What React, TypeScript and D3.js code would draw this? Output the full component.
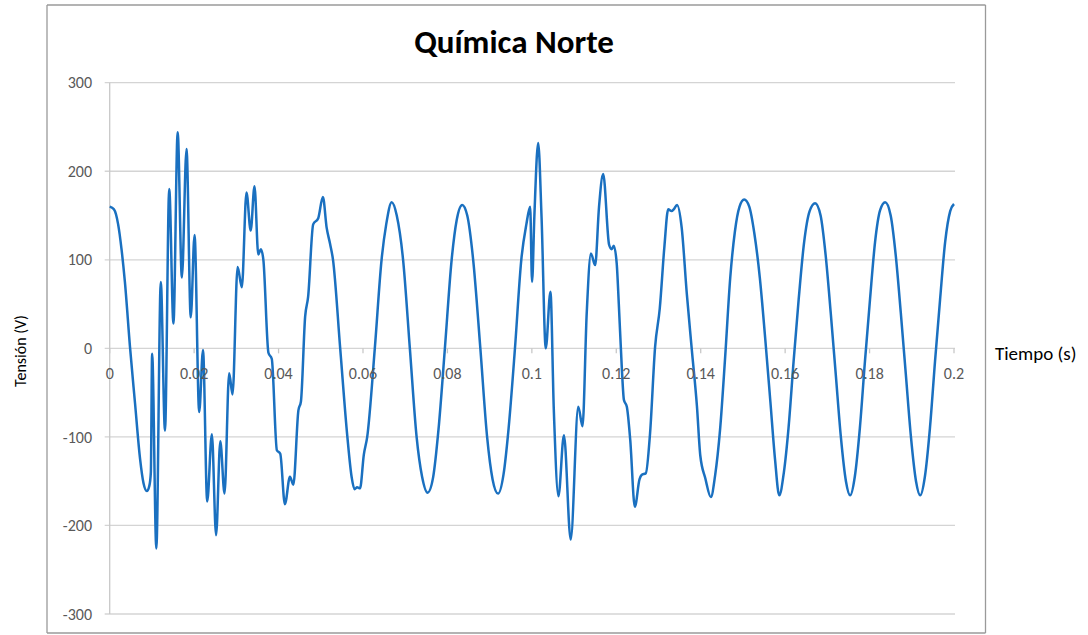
import React from "react";
import * as d3 from "d3";

const title = "Química Norte";
const xTitle = "Tiempo (s)";
const yTitle = "Tensión (V)";

const xTicks = [0, 0.02, 0.04, 0.06, 0.08, 0.1, 0.12, 0.14, 0.16, 0.18, 0.2];
const xTickLabels = ["0", "0.02", "0.04", "0.06", "0.08", "0.1", "0.12", "0.14", "0.16", "0.18", "0.2"];
const yTicks = [300, 200, 100, 0, -100, -200, -300];
const yTickLabels = ["300", "200", "100", "0", "-100", "-200", "-300"];

// time in milliseconds
const timeMs = [
  0, 1, 2, 2.8, 3.6, 4.8, 6, 7.2, 8, 8.8, 9.4, 9.75, 10.05, 11.05, 12.1, 13.1, 14.1, 15.1, 16.1, 17.1,
  18.2, 19.2, 20.1, 21.2, 22.1, 23.1, 24.2, 25.2, 26.2, 27.2, 28.3, 29.1, 30.3, 31.3, 32.4, 33.4, 34.3, 35.2, 35.8, 36.4,
  37.6, 38.4, 39.6, 40.4, 41.5, 42.7, 43.5, 44.7, 45.3, 46.3, 47.0, 48.2, 49.4, 50.5, 51.4, 52.2, 52.9, 54.6, 56.3, 57.3,
  58.0, 58.6, 59.3, 60.2, 61.0, 62.8, 64.4, 65.5, 66.8, 68.0, 69.5, 71.1, 72.7, 74.0, 75.3, 76.6, 77.9, 79.4, 81.0, 82.2,
  83.5, 84.7, 86.1, 87.8, 89.4, 90.7, 92.0, 93.3, 94.5, 96.0, 97.5, 98.7, 99.6, 100.05, 100.6, 101.5, 102.3, 103.3, 104.4, 105.2,
  106.3, 107.6, 109.2, 111.0, 112.0, 113.0, 114.0, 115.0, 115.9, 116.9, 118.3, 118.9, 119.4, 120.1, 120.6, 121.3, 121.8, 122.5, 123.3, 124.4,
  125.5, 126.0, 127.0, 128.0, 129.2, 130.3, 131.4, 132.3, 133.1, 133.6, 134.4, 135.5, 136.7, 137.9, 139.1, 139.9, 141.1, 142.4, 143.4, 144.6,
  145.8, 147.0, 148.1, 149.2, 150.3, 151.5, 152.7, 154.0, 155.3, 156.5, 157.6, 158.6, 159.7, 160.8, 162.0, 163.2, 164.5, 165.8, 167.1, 168.4,
  169.6, 170.8, 172.0, 173.2, 174.4, 175.4, 176.5, 177.7, 178.9, 180.1, 181.3, 182.5, 183.7, 185.0, 186.2, 187.4, 188.6, 189.8, 191.0, 192.0,
  193.1, 194.3, 195.5, 196.7, 197.9, 199.1, 200.0,
];

const voltage = [
  160, 157, 140, 112, 75, 2, -62, -125, -152, -161, -155, -140, -6, -226, 75, -93, 180, 28, 244, 80,
  225, 35, 128, -72, -2, -173, -97, -211, -105, -164, -28, -52, 92, 69, 176, 133, 183, 106, 112, 100,
  -5, -12, -115, -119, -176, -145, -154, -70, -60, 36, 58, 140, 147, 171, 136, 118, 100, 0, -100, -145,
  -159, -157, -158, -120, -100, 0, 100, 140, 165, 150, 100, 0, -100, -145, -163, -146, -91, 0, 100, 145,
  162, 150, 100, 0, -100, -148, -164, -142, -90, 0, 100, 140, 160, 75, 150, 232, 148, 0, 64, -69,
  -167, -98, -216, -66, -88, 40, 107, 94, 159, 197, 117, 112, 116, 96, 50, -21, -58, -66, -103, -179,
  -148, -143, -141, -96, 2, 45, 115, 157, 155, 157, 162, 136, 62, -2, -65, -121, -147, -168, -144, -91,
  -9, 80, 132, 160, 168, 160, 130, 80, 10, -60, -125, -166, -140, -90, -15, 55, 120, 155, 164, 150,
  105, 40, -30, -100, -150, -166, -145, -90, -15, 55, 120, 156, 165, 150, 105, 40, -30, -100, -150, -166,
  -145, -90, -15, 55, 120, 155, 163,
];

const W = 1088;
const H = 635;
const plot = { left: 109.7, right: 954, top: 82.7, bottom: 614 };
const font = "Carlito, Calibri, Lato, 'Open Sans', sans-serif";

export default function App() {
  const x = d3.scaleLinear().domain([0, 0.2]).range([plot.left, plot.right]);
  const y = d3.scaleLinear().domain([-300, 300]).range([plot.bottom, plot.top]);
  const data = timeMs.map((t, i) => [t / 1000, voltage[i]] as [number, number]);
  const line = d3
    .line<[number, number]>()
    .x((d) => x(d[0]))
    .y((d) => y(d[1]))
    .curve(d3.curveMonotoneX);

  return (
    <svg
      width={W}
      height={H}
      style={{ position: "absolute", left: 0, top: 0, background: "#fff" }}
      fontFamily={font}
    >
      <rect x={0} y={0} width={W} height={H} fill="#fff" />
      {/* chart border */}
      <line x1={47} y1={5} x2={985.5} y2={5} stroke="#9a9a9a" strokeWidth={1.3} />
      <line x1={47} y1={5} x2={47} y2={633} stroke="#9a9a9a" strokeWidth={1.3} />
      <line x1={985.5} y1={5} x2={985.5} y2={633} stroke="#9a9a9a" strokeWidth={1.3} />
      <line x1={47} y1={633} x2={985.5} y2={633} stroke="#9a9a9a" strokeWidth={1.3} />

      <text x={514} y={53} textAnchor="middle" fontSize={33} fontWeight="bold" fill="#000">
        {title}
      </text>

      {/* gridlines */}
      {yTicks.map((v) => (
        <line key={"g" + v} x1={plot.left - 5} x2={plot.right + 1} y1={y(v)} y2={y(v)} stroke="#d4d4d4" strokeWidth={1.3} />
      ))}
      {/* vertical axis line */}
      <line x1={plot.left} x2={plot.left} y1={plot.top} y2={plot.bottom} stroke="#c8c8c8" strokeWidth={1.3} />
      {/* x axis ticks */}
      {xTicks.map((t) => (
        <line key={"t" + t} x1={x(t)} x2={x(t)} y1={y(0)} y2={y(0) + 5} stroke="#c8c8c8" strokeWidth={1.3} />
      ))}

      <path d={line(data) || ""} fill="none" stroke="#1a70c0" strokeWidth={2.5} strokeLinejoin="round" />

      {xTicks.map((t, i) => (
        <text key={"xl" + t} x={x(t)} y={379} textAnchor="middle" fontSize={16} fill="#595959">
          {xTickLabels[i]}
        </text>
      ))}
      {yTicks.map((v, i) => (
        <text key={"yl" + v} x={92} y={y(v)} dy="0.35em" textAnchor="end" fontSize={16} fill="#595959">
          {yTickLabels[i]}
        </text>
      ))}

      <text x={995} y={353} dy="0.35em" fontSize={19} fill="#000">
        {xTitle}
      </text>
      <text
        transform={`translate(20, 351) rotate(-90)`}
        textAnchor="middle"
        dy="0.35em"
        fontSize={16}
        fill="#000"
      >
        {yTitle}
      </text>
    </svg>
  );
}
